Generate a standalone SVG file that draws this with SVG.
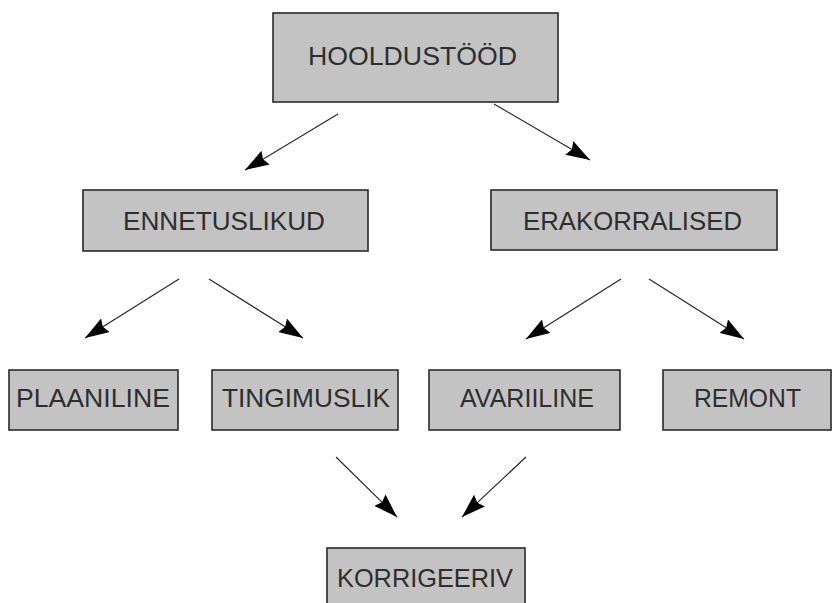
<svg xmlns="http://www.w3.org/2000/svg" width="834" height="603" viewBox="0 0 834 603">
<style>
.box{fill:#c3c3c3;stroke:#2a2a2a;stroke-width:1.6}
.lbl{font-family:"Liberation Sans",Arial,sans-serif;font-size:26px;fill:#2e2e2e;text-anchor:middle}
.edge{stroke:#222;stroke-width:1.1;fill:none;marker-end:url(#ah)}
</style>
<defs>
<marker id="ah" viewBox="0 0 24 16" refX="24" refY="8" markerWidth="24" markerHeight="16" orient="auto" markerUnits="userSpaceOnUse">
<path d="M0,0 L24,8 L0,16 L3,8 Z" fill="#000"/>
</marker>
</defs>
<rect width="834" height="603" fill="#fff"/>
<g id="n-hooldustood"><rect class="box" x="273" y="13" width="285" height="89"/><text class="lbl" x="412.5" y="65" textLength="209" lengthAdjust="spacingAndGlyphs">HOOLDUSTÖÖD</text></g>
<g id="n-ennetuslikud"><rect class="box" x="83" y="190" width="285" height="61"/><text class="lbl" x="224" y="230" textLength="202" lengthAdjust="spacingAndGlyphs">ENNETUSLIKUD</text></g>
<g id="n-erakorralised"><rect class="box" x="491" y="190" width="286" height="60"/><text class="lbl" x="632.5" y="230" textLength="219" lengthAdjust="spacingAndGlyphs">ERAKORRALISED</text></g>
<g id="n-plaaniline"><rect class="box" x="9" y="370" width="169" height="60"/><text class="lbl" x="93" y="407" textLength="154" lengthAdjust="spacingAndGlyphs">PLAANILINE</text></g>
<g id="n-tingimuslik"><rect class="box" x="212" y="370" width="186" height="60"/><text class="lbl" x="306" y="407" textLength="168" lengthAdjust="spacingAndGlyphs">TINGIMUSLIK</text></g>
<g id="n-avariiline"><rect class="box" x="429" y="370" width="191" height="60"/><text class="lbl" x="527" y="407" textLength="134" lengthAdjust="spacingAndGlyphs">AVARIILINE</text></g>
<g id="n-remont"><rect class="box" x="663" y="370" width="168" height="60"/><text class="lbl" x="747.5" y="407" textLength="107" lengthAdjust="spacingAndGlyphs">REMONT</text></g>
<g id="n-korrigeeriv"><rect class="box" x="327" y="548" width="198" height="62"/><text class="lbl" x="425" y="587" textLength="176" lengthAdjust="spacingAndGlyphs">KORRIGEERIV</text></g>
<g id="connectors">
<line class="edge" x1="338" y1="114" x2="245" y2="170"/>
<line class="edge" x1="494" y1="104" x2="590" y2="160"/>
<line class="edge" x1="179" y1="279" x2="85" y2="338"/>
<line class="edge" x1="209" y1="279" x2="303" y2="338"/>
<line class="edge" x1="621" y1="279" x2="526" y2="339"/>
<line class="edge" x1="649" y1="279" x2="744" y2="339"/>
<line class="edge" x1="336" y1="457" x2="397" y2="517"/>
<line class="edge" x1="526" y1="457" x2="462" y2="517"/>
</g>
</svg>
